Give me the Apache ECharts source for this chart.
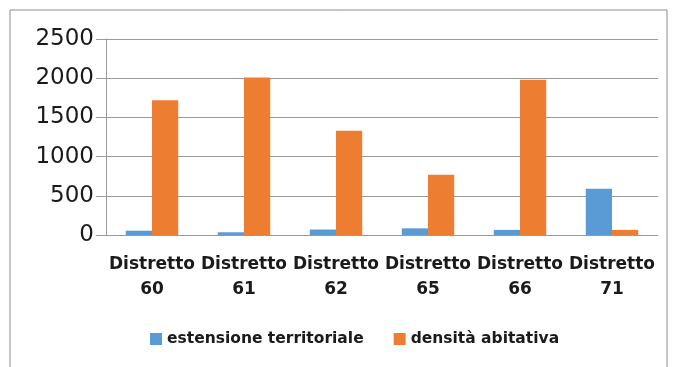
<!DOCTYPE html>
<html>
<head>
<meta charset="utf-8">
<script src="https://cdn.jsdelivr.net/npm/echarts@6/dist/echarts.min.js"></script>
<style>
  html, body { margin: 0; padding: 0; background: #fff; }
  #chart { width: 677px; height: 367px; }
</style>
</head>
<body>
<div id="chart"></div>
<script>
// District labels along the category axis
const categories = ['Distretto\n60', 'Distretto\n61', 'Distretto\n62', 'Distretto\n65', 'Distretto\n66', 'Distretto\n71'];
// Territorial extent per district
const estensione = [55, 35, 70, 85, 65, 590];
// Housing density per district
const densita = [1720, 2010, 1330, 770, 1980, 65];
// Value axis ticks
const yTicks = [0, 500, 1000, 1500, 2000, 2500];

const chart = echarts.init(document.getElementById('chart'));
const gridColor = '#9a9a9a';

chart.setOption({
  animation: false,
  color: ['#5B9BD5', '#ED7D31'],
  graphic: [{
    type: 'rect',
    shape: { x: 10, y: 10, width: 657, height: 370 },
    style: { fill: 'none', stroke: '#8c8c8c', lineWidth: 1 },
    silent: true
  }],
  grid: { left: 106, right: 19, top: 39, bottom: 132 },
  legend: {
    bottom: 15,
    left: 145,
    itemWidth: 12,
    itemHeight: 12,
    itemGap: 30,
    icon: 'rect',
    textStyle: { fontFamily: 'DejaVu Sans', fontSize: 15.5, fontWeight: 'bold', color: '#1a1a1a' },
    data: ['estensione territoriale', 'densità abitativa']
  },
  xAxis: {
    type: 'category',
    data: categories,
    axisLine: { lineStyle: { color: gridColor } },
    axisTick: { length: 6, lineStyle: { color: gridColor } },
    axisLabel: {
      fontFamily: 'DejaVu Sans', fontSize: 17, fontWeight: 'bold', color: '#1a1a1a',
      lineHeight: 25, margin: 17, interval: 0
    }
  },
  yAxis: {
    type: 'value',
    min: yTicks[0],
    max: yTicks[yTicks.length - 1],
    interval: 500,
    axisLine: { show: true, lineStyle: { color: gridColor } },
    axisTick: { show: true, length: 10, lineStyle: { color: gridColor } },
    splitLine: { lineStyle: { color: gridColor } },
    axisLabel: {
      fontFamily: 'DejaVu Sans', fontSize: 23, color: '#1a1a1a', margin: 12,
      formatter: v => yTicks.includes(v) ? String(v) : ''
    }
  },
  series: [
    {
      name: 'estensione territoriale', type: 'bar', data: estensione,
      barGap: '0%', barCategoryGap: '43%'
    },
    {
      name: 'densità abitativa', type: 'bar', data: densita,
      barGap: '0%', barCategoryGap: '43%'
    }
  ]
});
</script>
</body>
</html>
